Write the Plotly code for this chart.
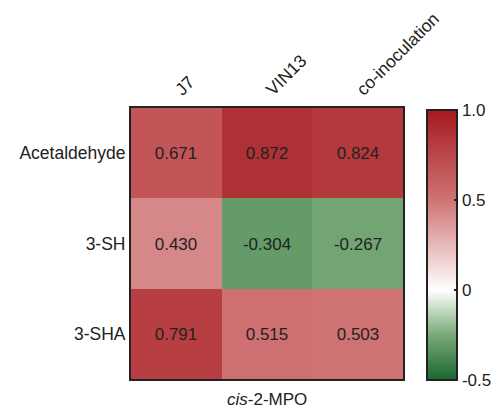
import plotly.graph_objects as go

strains = ["J7", "VIN13", "co-inoculation"]
compounds = ["Acetaldehyde", "3-SH", "3-SHA"]
values = [
    [0.671, 0.872, 0.824],
    [0.430, -0.304, -0.267],
    [0.791, 0.515, 0.503],
]
title_text = "<i>cis</i>-2-MPO"
cb_ticks = [-0.5, 0, 0.5, 1.0]
cb_ticktext = ["-0.5", "0", "0.5", "1.0"]

FONT = "Liberation Sans, Arial, Helvetica, sans-serif"
INK = "#222222"

colorscale = [
    [0.0, "#1a6630"],
    [0.1667, "#78aa78"],
    [0.3333, "#ffffff"],
    [0.6667, "#cf7373"],
    [1.0, "#a51a20"],
]

fig = go.Figure(
    go.Heatmap(
        z=values,
        x=strains,
        y=compounds,
        zmin=-0.5,
        zmax=1.0,
        colorscale=colorscale,
        texttemplate="%{z:.3f}",
        textfont=dict(family=FONT, size=17, color=INK),
        colorbar=dict(
            thickness=30,
            len=270,
            lenmode="pixels",
            x=1.088,
            xref="paper",
            xanchor="left",
            xpad=0,
            y=0.495,
            yanchor="middle",
            ypad=0,
            outlinewidth=2,
            outlinecolor=INK,
            tickvals=cb_ticks,
            ticktext=cb_ticktext,
            ticks="inside",
            ticklen=4,
            tickwidth=1.5,
            tickcolor=INK,
            tickfont=dict(family=FONT, size=17, color=INK),
        ),
    )
)

fig.update_layout(
    width=502,
    height=410,
    margin=dict(l=131, r=99, t=108, b=31, autoexpand=False),
    paper_bgcolor="white",
    plot_bgcolor="white",
    font=dict(family=FONT, color=INK),
    xaxis=dict(
        side="top",
        tickangle=-45,
        tickfont=dict(family=FONT, size=17.5, color=INK),
        showline=True,
        linecolor=INK,
        linewidth=2,
        mirror=True,
        ticks="",
        showgrid=False,
        zeroline=False,
    ),
    yaxis=dict(
        autorange="reversed",
        tickfont=dict(family=FONT, size=17.5, color=INK),
        showline=True,
        linecolor=INK,
        linewidth=2,
        mirror=True,
        ticks="",
        showgrid=False,
        zeroline=False,
    ),
    annotations=[
        dict(
            text=title_text,
            x=0.5,
            y=-0.035,
            xref="paper",
            yref="paper",
            xanchor="center",
            yanchor="top",
            showarrow=False,
            font=dict(family=FONT, size=17, color=INK),
        )
    ],
)

fig.write_html("out.html")
